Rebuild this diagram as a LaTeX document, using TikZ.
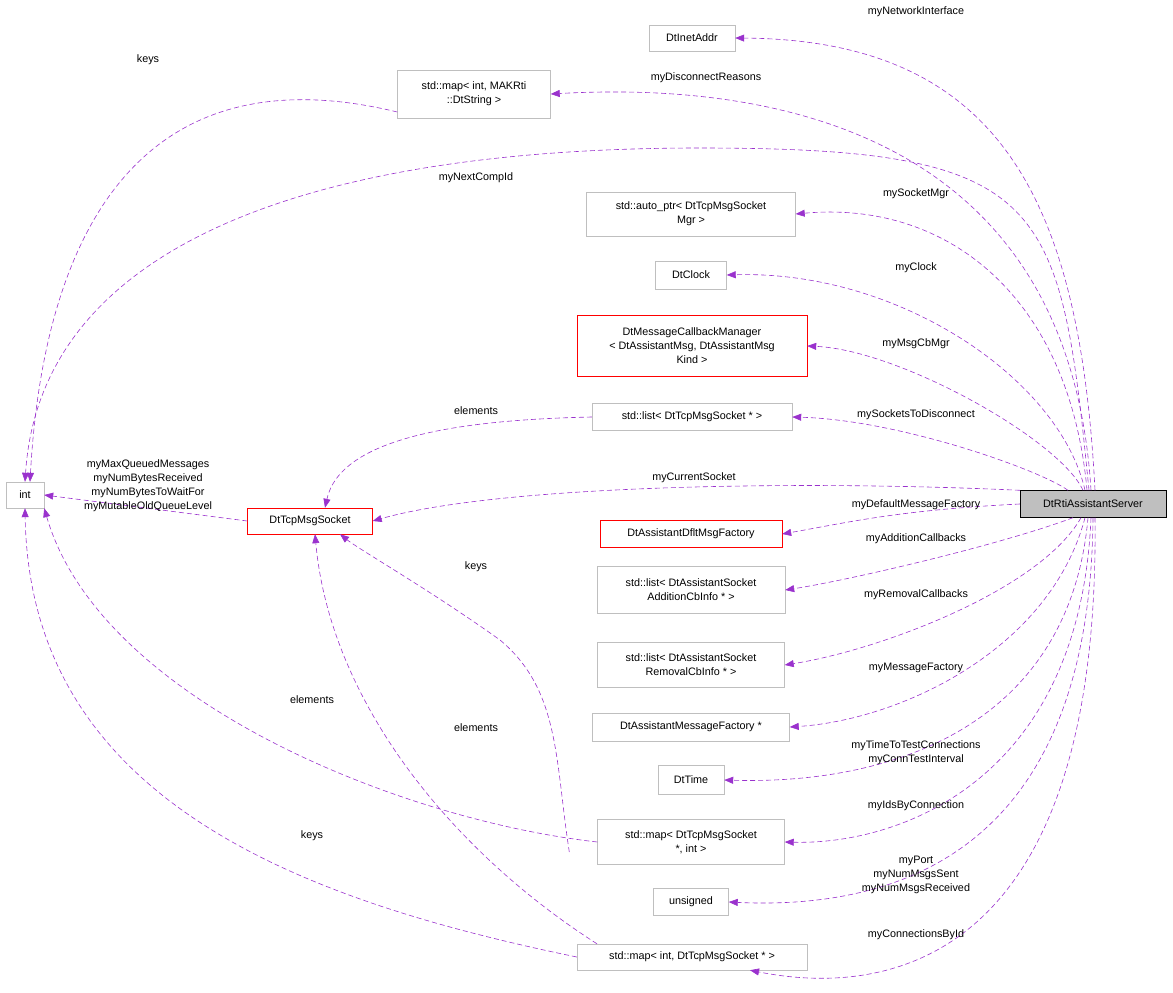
\documentclass[tikz,border=0pt]{standalone}
\usepackage{fontspec}
\setmainfont{Liberation Sans}
\usetikzlibrary{arrows.meta,positioning}
\definecolor{edgepurple}{HTML}{9A32CD}
\definecolor{boxgray}{HTML}{BFBFBF}
\begin{document}
\begin{tikzpicture}[
    x=1pt, y=-1pt,
    cls/.style={
        rectangle,
        draw=boxgray,
        fill=white,
        inner sep=2pt,
        align=center,
        font=\fontsize{10.8}{14}\selectfont
    },
    hot/.style={cls, draw=red},
    main/.style={cls, draw=black, fill=black!25},
    edge/.style={-{Triangle[length=9pt,width=7pt]}, semithick, dash pattern=on 5pt off 3pt, edgepurple},
    lbl/.style={font=\fontsize{10.8}{14}\selectfont, align=center, inner sep=0pt}
]
\useasboundingbox (0,0) rectangle (1173,993);

% Nodes
\node[main, minimum width=146pt, minimum height=27pt] (srv) at (1093,504) {DtRtiAssistantServer};
\node[cls, minimum width=86pt, minimum height=26pt] (inet) at (692,38) {DtInetAddr};
\node[cls, minimum width=153pt, minimum height=48pt] (strmap) at (474,94) {std::map< int, MAKRti\\::DtString >};
\node[cls, minimum width=209pt, minimum height=44pt] (mgr) at (691,214) {std::auto\_ptr< DtTcpMsgSocket\\Mgr >};
\node[cls, minimum width=71pt, minimum height=28pt] (clock) at (691,275) {DtClock};
\node[hot, minimum width=230pt, minimum height=61pt] (cbmgr) at (692,346) {DtMessageCallbackManager\\< DtAssistantMsg, DtAssistantMsg\\Kind >};
\node[cls, minimum width=200pt, minimum height=27pt] (socklist) at (692,417) {std::list< DtTcpMsgSocket * >};
\node[cls, minimum width=38pt, minimum height=26pt] (int) at (25,495) {int};
\node[hot, minimum width=125pt, minimum height=26pt] (sock) at (310,521) {DtTcpMsgSocket};
\node[hot, minimum width=182pt, minimum height=27pt] (dflt) at (691,534) {DtAssistantDfltMsgFactory};
\node[cls, minimum width=188pt, minimum height=47pt] (addlist) at (691,590) {std::list< DtAssistantSocket\\AdditionCbInfo * >};
\node[cls, minimum width=187pt, minimum height=45pt] (remlist) at (691,665) {std::list< DtAssistantSocket\\RemovalCbInfo * >};
\node[cls, minimum width=197pt, minimum height=28pt] (msgfac) at (691,727) {DtAssistantMessageFactory *};
\node[cls, minimum width=66pt, minimum height=29pt] (time) at (691,780) {DtTime};
\node[cls, minimum width=187pt, minimum height=45pt] (sockmap) at (691,842) {std::map< DtTcpMsgSocket\\*, int >};
\node[cls, minimum width=75pt, minimum height=27pt] (uns) at (691,902) {unsigned};
\node[cls, minimum width=230pt, minimum height=26pt] (idmap) at (692,957) {std::map< int, DtTcpMsgSocket * >};

% Edges from the server
\draw[edge] ([xshift=2pt]srv.north) .. controls (1080,200) and (1000,40) .. (inet.east);
\draw[edge] ([xshift=-2pt]srv.north) .. controls (1070,150) and (800,80) .. (strmap.east);
\draw[edge] ([xshift=-4pt]srv.north) .. controls (1060,200) and (1050,148) .. (700,148) .. controls (300,148) and (40,250) .. (int.north);
\draw[edge] ([xshift=-6pt]srv.north) .. controls (1070,300) and (950,200) .. (mgr.east);
\draw[edge] ([xshift=-8pt]srv.north) .. controls (1060,380) and (900,270) .. (clock.east);
\draw[edge] ([xshift=-10pt]srv.north) .. controls (1060,440) and (900,350) .. (cbmgr.east);
\draw[edge] ([xshift=-25pt]srv.north) .. controls (1040,470) and (900,420) .. (socklist.east);
\draw[edge] (srv.north west) .. controls (800,480) and (500,485) .. (sock.east);
\draw[edge] (srv.west) .. controls (900,510) and (850,522) .. (dflt.east);
\draw[edge] ([xshift=-20pt]srv.south) .. controls (1000,545) and (850,580) .. (addlist.east);
\draw[edge] ([xshift=-12pt]srv.south) .. controls (1040,590) and (880,650) .. (remlist.east);
\draw[edge] ([xshift=-8pt]srv.south) .. controls (1050,650) and (900,720) .. (msgfac.east);
\draw[edge] ([xshift=-5pt]srv.south) .. controls (1070,720) and (900,785) .. (time.east);
\draw[edge] ([xshift=-2pt]srv.south) .. controls (1080,780) and (900,845) .. (sockmap.east);
\draw[edge] (srv.south) .. controls (1090,850) and (900,910) .. (uns.east);
\draw[edge] ([xshift=2pt]srv.south) .. controls (1100,950) and (900,1000) .. ([xshift=58pt]idmap.south);

% Edges between the containers
\draw[edge] ([yshift=-18pt]strmap.west) .. controls (100,40) and (40,300) .. ([xshift=5pt]int.north);
\draw[edge] (socklist.west) .. controls (450,420) and (340,440) .. ([xshift=15pt]sock.north);
\draw[edge] (sock.west) -- (int.east);
\draw[edge] ([xshift=-28pt,yshift=-10pt]sockmap.west) .. controls (555,760) and (560,690) .. (500,640) .. controls (430,590) and (360,550) .. ([xshift=30pt]sock.south);
\draw[edge] (sockmap.west) .. controls (400,820) and (100,700) .. (int.south east);
\draw[edge] ([xshift=-95pt]idmap.north) .. controls (450,850) and (330,700) .. ([xshift=5pt]sock.south);
\draw[edge] (idmap.west) .. controls (300,900) and (30,800) .. (int.south);

% Labels
\node[lbl] (l1) at (916,12) {myNetworkInterface};
\node[lbl] (l2) at (706,78) {myDisconnectReasons};
\node[lbl] (l3) at (476,178) {myNextCompId};
\node[lbl] (l4) at (916,194) {mySocketMgr};
\node[lbl] (l5) at (916,268) {myClock};
\node[lbl] (l6) at (916,344) {myMsgCbMgr};
\node[lbl] (l7) at (916,415) {mySocketsToDisconnect};
\node[lbl] (l8) at (694,478) {myCurrentSocket};
\node[lbl] (l9) at (916,505) {myDefaultMessageFactory};
\node[lbl] (l10) at (916,539) {myAdditionCallbacks};
\node[lbl] (l11) at (916,595) {myRemovalCallbacks};
\node[lbl] (l12) at (916,668) {myMessageFactory};
\node[lbl] (l13) at (916,753) {myTimeToTestConnections\\myConnTestInterval};
\node[lbl] (l14) at (916,806) {myIdsByConnection};
\node[lbl] (l15) at (916,875) {myPort\\myNumMsgsSent\\myNumMsgsReceived};
\node[lbl] (l16) at (916,935) {myConnectionsById};
\node[lbl] (l17) at (148,60) {keys};
\node[lbl] (l18) at (476,411) {elements};
\node[lbl] (l19) at (148,486) {myMaxQueuedMessages\\myNumBytesReceived\\myNumBytesToWaitFor\\myMutableOldQueueLevel};
\node[lbl] (l20) at (476,567) {keys};
\node[lbl] (l21) at (312,700) {elements};
\node[lbl] (l22) at (476,728) {elements};
\node[lbl] (l23) at (312,836) {keys};
\end{tikzpicture}
\end{document}
